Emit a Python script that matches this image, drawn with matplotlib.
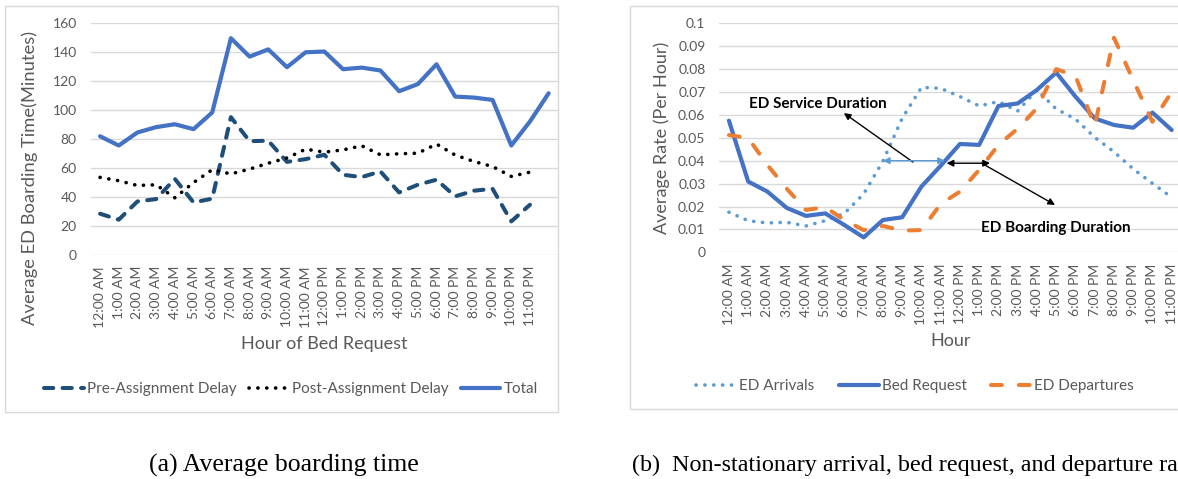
import matplotlib
matplotlib.use('Agg')
import matplotlib.pyplot as plt
from matplotlib.patches import Rectangle
from matplotlib.ticker import FuncFormatter

plt.rcParams['font.family'] = ['Lato', 'DejaVu Sans']

hours = ['12:00 AM', '1:00 AM', '2:00 AM', '3:00 AM', '4:00 AM', '5:00 AM',
         '6:00 AM', '7:00 AM', '8:00 AM', '9:00 AM', '10:00 AM', '11:00 AM',
         '12:00 PM', '1:00 PM', '2:00 PM', '3:00 PM', '4:00 PM', '5:00 PM',
         '6:00 PM', '7:00 PM', '8:00 PM', '9:00 PM', '10:00 PM', '11:00 PM']

# (a) boarding time in minutes, total has one extra unlabeled point
pre_delay = [28.5, 24.4, 37, 38.6, 52.6, 36.3, 38.9, 95.2, 78.6, 78.9, 64.3, 66.2,
             69.2, 55.4, 53.8, 57.7, 43.2, 48.5, 52, 40.5, 44.4, 45.7, 23.2, 34.7]
post_delay = [53.6, 51.3, 48, 48.5, 39.5, 50, 58.9, 56, 59.3, 63.4, 67, 73.1,
              71, 72.6, 75.4, 69.2, 69.9, 70.3, 76.6, 69, 64.6, 61.1, 54.3, 57.2]
total = [82, 75.6, 84.6, 88.3, 90.3, 86.9, 98.4, 149.7, 137, 142, 129.7, 140,
         140.5, 128.3, 129.4, 127.4, 113.1, 118, 131.7, 109.4, 108.7, 107.1, 75.6, 92.2, 111.7]

# (b) rates per hour
arrivals = [0.0175, 0.0138, 0.0128, 0.0131, 0.0115, 0.0138, 0.017, 0.0255, 0.0398, 0.0585,
            0.072, 0.0716, 0.068, 0.0639, 0.0658, 0.0617, 0.0709, 0.0626, 0.0582, 0.0502,
            0.0439, 0.0364, 0.0301, 0.024]
bed_request = [0.0575, 0.0309, 0.0265, 0.0194, 0.0159, 0.017, 0.0119, 0.0065, 0.0141, 0.0153,
               0.0287, 0.0378, 0.0473, 0.0469, 0.0639, 0.065, 0.0709, 0.0785, 0.068, 0.0585,
               0.0556, 0.0544, 0.061, 0.0534]
departures = [0.0512, 0.0499, 0.0381, 0.0278, 0.0185, 0.0197, 0.0141, 0.0097, 0.0115, 0.0095,
              0.0097, 0.0211, 0.0265, 0.036, 0.0469, 0.054, 0.0629, 0.080, 0.077, 0.0552,
              0.0937, 0.0752, 0.057, 0.070]

W, H = 1178, 479
GRAY = '#595959'
GRID = '#d9d9d9'


def px(x0, y0, x1, y1):
    # pixel box (top-left origin) -> figure fraction rect
    return [x0 / W, 1 - y1 / H, (x1 - x0) / W, (y1 - y0) / H]


def style_axes(ax):
    for s in ax.spines.values():
        s.set_visible(False)
    ax.grid(axis='y', color=GRID, lw=1)
    ax.set_axisbelow(True)
    ax.tick_params(length=0, colors=GRAY, labelsize=10)
    ax.tick_params(axis='y', pad=10)
    ax.tick_params(axis='x', pad=8)


fig = plt.figure(figsize=(W / 100, H / 100), dpi=100)

# chart frames
fig.add_artist(Rectangle((5 / W, 1 - 411.5 / H), 553 / W, 405.5 / H, transform=fig.transFigure,
                         fill=False, ec=GRID, lw=1))
fig.add_artist(Rectangle((630 / W, 1 - 409 / H), 600 / W, 403 / H, transform=fig.transFigure,
                         fill=False, ec=GRID, lw=1))

# ---- (a)
ax1 = fig.add_axes(px(90.7, 23.3, 558, 255))
style_axes(ax1)
x1 = list(range(len(total)))
xs = list(range(len(hours)))
ax1.plot(xs, pre_delay, color='#1f4e79', lw=2.9, ls=(0, (2.3, 2.3)), dash_capstyle='round',
         label='Pre-Assignment Delay')
ax1.plot(xs, post_delay, color='black', lw=2.6, ls=(0, (0.05, 2.4)), dash_capstyle='round',
         label='Post-Assignment Delay')
ax1.plot(x1, total, color='#4472c4', lw=3.0, solid_capstyle='round', label='Total')
ax1.set_xlim(-0.5, len(total) - 0.5)
ax1.set_ylim(0, 160)
ax1.set_yticks(range(0, 161, 20))
ax1.set_xticks(x1)
ax1.set_xticklabels(hours + [''], rotation=90)
ax1.set_ylabel('Average ED Boarding Time(Minutes)', fontsize=13.2, color=GRAY)
ax1.yaxis.set_label_coords(-0.113, 0.332)
ax1.set_xlabel('Hour of Bed Request', fontsize=13, color=GRAY, labelpad=6)
fig.legend(*ax1.get_legend_handles_labels(), loc='center', ncol=3, frameon=False,
           bbox_to_anchor=(291 / W, 1 - 389 / H), fontsize=11, labelcolor=GRAY,
           handlelength=2.6, handletextpad=0.2, columnspacing=0.8)

# ---- (b)
ax2 = fig.add_axes(px(719.3, 23.3, 1181.3, 252.3))
style_axes(ax2)
ax2.plot(xs, arrivals, color='#5b9bd5', lw=2.6, ls=(0, (0.05, 2.4)), dash_capstyle='round',
         label='ED Arrivals')
ax2.plot(xs, bed_request, color='#4472c4', lw=3.0, solid_capstyle='round', label='Bed Request')
ax2.plot(xs, departures, color='#ed7d31', lw=2.9, ls=(0, (2.7, 4.2)), dash_capstyle='round',
         label='ED Departures')
ax2.set_xlim(-0.5, len(hours) - 0.5)
ax2.set_ylim(0, 0.1)
ax2.set_yticks([i / 100 for i in range(11)])
ax2.yaxis.set_major_formatter(FuncFormatter(lambda v, p: f'{v:g}'))
ax2.set_xticks(xs)
ax2.set_xticklabels(hours, rotation=90)
ax2.set_ylabel('Average Rate (Per Hour)', fontsize=13, color=GRAY, labelpad=6)
ax2.set_xlabel('Hour', fontsize=13, color=GRAY, labelpad=6)
fig.legend(*ax2.get_legend_handles_labels(), loc='center', ncol=3, frameon=False,
           bbox_to_anchor=(915 / W, 1 - 386 / H), fontsize=11, labelcolor=GRAY,
           handlelength=2.6, handletextpad=0.2, columnspacing=1.6)

# annotations
arw = dict(arrowstyle='-|>', color='black', lw=1, mutation_scale=10, shrinkA=0, shrinkB=0)
ax2.annotate('', xy=(5.97, 0.0608), xytext=(9.56, 0.0394), arrowprops=arw)
ax2.text(4.62, 0.0648, 'ED Service Duration', fontsize=11, fontweight='bold', ha='center', va='center')
ax2.annotate('', xy=(8.0, 0.040), xytext=(11.22, 0.040),
             arrowprops=dict(arrowstyle='<|-|>', color='#5b9bd5', lw=1, mutation_scale=10,
                             shrinkA=0, shrinkB=0))
ax2.annotate('', xy=(11.31, 0.0389), xytext=(13.56, 0.0389),
             arrowprops=dict(arrowstyle='<|-|>', color='black', lw=1, mutation_scale=10,
                             shrinkA=0, shrinkB=0))
ax2.annotate('', xy=(16.94, 0.0207), xytext=(13.13, 0.0389), arrowprops=arw)
ax2.text(17.0, 0.0106, 'ED Boarding Duration', fontsize=11, fontweight='bold', ha='center', va='center')

# captions
cap = dict(family=['Liberation Serif', 'DejaVu Serif'], va='center')
fig.text(284 / W, 1 - 465 / H, '(a) Average boarding time', ha='center', fontsize=18.5, **cap)
fig.text(632 / W, 1 - 465 / H, '(b)  Non-stationary arrival, bed request, and departure rates',
         ha='left', fontsize=17.4, **cap)

fig.savefig('out.png', dpi=100)
